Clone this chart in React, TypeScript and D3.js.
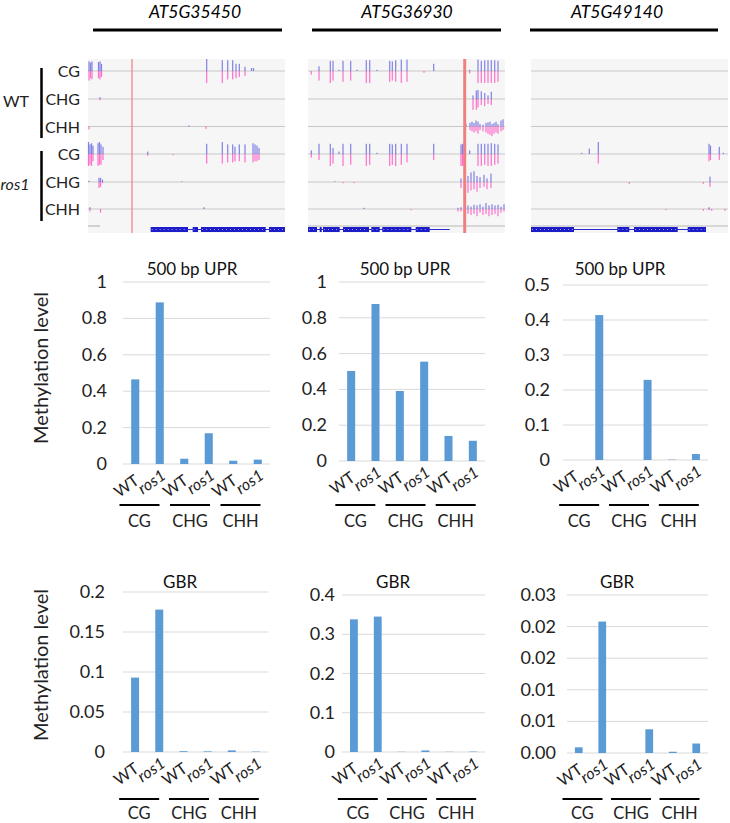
import React from "react";
import * as d3 from "d3";

const genes = ["AT5G35450", "AT5G36930", "AT5G49140"];
const contexts = ["CG", "CHG", "CHH"];
const genotypes = ["WT", "ros1"];
const trackLabels = ["CG", "CHG", "CHH", "CG", "CHG", "CHH"];

// bar chart values (order: CG WT, CG ros1, CHG WT, CHG ros1, CHH WT, CHH ros1)
const upr1 = [0.465, 0.888, 0.029, 0.169, 0.018, 0.024];
const upr2 = [0.503, 0.877, 0.391, 0.555, 0.14, 0.113];
const upr3 = [0, 0.414, 0, 0.229, 0.001, 0.017];
const gbr1 = [0.093, 0.178, 0.001, 0.0008, 0.002, 0.0005];
const gbr2 = [0.338, 0.345, 0.0005, 0.004, 0.0005, 0.001];
const gbr3 = [0.0009, 0.0208, 0, 0.00375, 0.0002, 0.0015];

const uprTicks12 = [0, 0.2, 0.4, 0.6, 0.8, 1];
const uprTickLabels12 = ["0", "0.2", "0.4", "0.6", "0.8", "1"];
const uprTicks3 = [0, 0.1, 0.2, 0.3, 0.4, 0.5];
const uprTickLabels3 = ["0", "0.1", "0.2", "0.3", "0.4", "0.5"];
const gbrTicks1 = [0, 0.05, 0.1, 0.15, 0.2];
const gbrTickLabels1 = ["0", "0.05", "0.1", "0.15", "0.2"];
const gbrTicks2 = [0, 0.1, 0.2, 0.3, 0.4];
const gbrTickLabels2 = ["0", "0.1", "0.2", "0.3", "0.4"];
const gbrTicks3 = [0, 0.005, 0.01, 0.015, 0.02, 0.025];
const gbrTickLabels3 = ["0.00", "0.01", "0.01", "0.02", "0.02", "0.03"];

// genome browser peaks: [position, up (blue), down (pink)]
const p1Tracks = [
  [[1,0.8,0.8],[2.5,0.7,0.6],[4,0.8,0.7],[10.5,0.75,0.6],[12,0.8,0.7],[13.5,0.6,0.5],[118.7,1,1],[134.3,0.9,1],[139.7,0.9,0.7],[144.7,0.9,0.7],[148,0.6,0.6],[151.3,0.6,0.5],[157,0.35,0.4],[163.5,0.25,0],[165.5,0.25,0]],
  [[12,0.15,0.1]],
  [[1,0,0.25],[101,0.1,0],[118,0,0.2]],
  [[0.5,1,1],[2,0.8,0.9],[3.5,0.9,1],[5,0.7,0.6],[10,0.9,1],[11.5,1,0.9],[13,0.8,0.9],[15,0.6,0.5],[59.7,0.2,0.15],[85,0,0.1],[118.7,0.85,0.8],[134.3,1,0.8],[139.7,0.8,0.7],[144.7,0.8,0.7],[147,0.6,0.6],[151.3,0.8,0.6],[157,0.8,0.7],[165,0.9,0.7],[167,0.8,0.6],[169,0.7,0.6],[171,0.5,0.5]],
  [[1,0.1,0],[11,0.35,0.5],[12.5,0.35,0.4],[14.5,0.2,0.1],[94,0.05,0]],
  [[2,0.15,0.2],[12.5,0,0.3],[116,0.15,0]],
];
const p2Tracks = [
  [[3.3,0,0.3],[11,0.4,0.8],[22.3,0.85,1],[25,0.85,0.8],[31,0.1,0],[35,0.85,0.9],[42.7,0.85,0.8],[49,0.1,0],[58.3,0.9,1],[61.7,0.9,1],[69,0.1,0],[81.7,0.85,0.9],[84.3,0.8,0.8],[87.7,0.9,0.9],[93.3,0.95,1],[99,0.95,0.9],[116,0,0.15],[125.7,0.6,0],[157.3,0.3,0.3],[161.7,0.1,0.2],[170,0.95,1],[173.3,0.85,1],[176.7,0.9,1],[180,0.9,1],[183.3,0.9,1],[186.7,0.9,1],[190,0.85,0.9]],
  [[165,0.3,0.9],[168.3,0.7,0.9],[170,0.75,0.7],[173.3,0.65,0.5],[176.7,0.5,0.6],[180,0.3,0.4],[183.3,0.6,0.5]],
  [[158,0.2,0],[162,0.3,0.3],[164,0.4,0.4],[166,0.3,0.5],[168,0.5,0.4],[170,0.4,0.6],[172,0.2,0.3],[175,0.15,0.4],[178,0.3,0.5],[180,0.35,0.6],[182,0.4,0.7],[184,0.2,0.8],[186,0.3,0.6],[188,0.4,0.5],[190,0.2,0.6],[193,0.5,0.4],[195,0.6,0.3]],
  [[3.3,0.3,0.3],[11,0.85,0.5],[22.3,0.85,1],[25,0.5,0.8],[31,0.2,0],[35,0.85,1],[42.7,0.85,0.9],[58.3,0.85,1],[61.7,0.85,0.9],[69,0.1,0],[81.7,0.85,1],[84.3,0.8,0.9],[87.7,0.85,1],[93.3,0.85,0.9],[99,0.85,0.7],[125.7,0.85,0.5],[153,0.8,1],[154.5,0.85,1],[156,0.8,0.9],[161.7,0.3,0],[170,0.85,1],[173.3,0.85,1],[176.7,0.85,0.9],[180,0.85,1],[183.3,0.9,1],[186.7,0.85,0.9],[190,0.8,0.8]],
  [[27,0.05,0],[35,0,0.1],[46,0,0.1],[153,0.3,0.5],[157,0.4,0.3],[160,0.5,0.9],[163,0.8,0.7],[166,0.9,0.6],[169,0.5,0.8],[172,0.4,0.5],[176,0.6,0.4],[179,0.3,0.6],[183,0.7,0.5]],
  [[56,0.1,0],[103,0,0.1],[150,0.1,0.2],[153,0.15,0.2],[157,0.2,0.3],[160,0.3,0.4],[163,0.2,0.5],[166,0.35,0.4],[169,0.3,0.6],[172,0.4,0.3],[175,0.2,0.5],[178,0.5,0.4],[181,0.3,0.6],[184,0.4,0.5],[187,0.3,0.4],[190,0.35,0.6],[193,0.2,0.3],[196,0.4,0.2]],
];
const p3Tracks = [
  [],
  [],
  [],
  [[50.7,0.1,0],[58.3,0.45,0],[67.3,1,0.8],[178,0.85,0.6],[179.5,0.7,0.5],[188.3,0.6,0.5],[192.3,0.1,0]],
  [[98.3,0,0.15],[172.3,0,0.15],[179,0.45,0.4]],
  [[135,0,0.1],[172.3,0,0.15],[178,0.15,0.1],[180.7,0,0.15],[194,0,0.15]],
];
const p1Exons = [[62.7,100],[104.7,110],[113,177.7],[181,197]];
const p2Exons = [[0,9],[11.7,13.7],[15,31.7],[35,61],[63.3,71.7],[74.3,103.3],[107.7,121.7]];
const p3Exons = [[0,43],[86.3,98.3],[103,146.7],[156.7,175]];
const p1Intron = [62.7, 197];
const p2Intron = [0, 141.7];
const p3Intron = [0, 175];
const redMarks = [44, 156.7, null];

const FONT = "Lato, 'Open Sans', sans-serif";
const BAR = "#5b9bd5";

const browserPanels = [
  { x: 88, titleX: 195, lineX: [93, 282], tracks: p1Tracks, exons: p1Exons, intron: p1Intron, red: redMarks[0], redW: 1.2, bottomLine: [0, 12] },
  { x: 308, titleX: 407, lineX: [312, 501], tracks: p2Tracks, exons: p2Exons, intron: p2Intron, red: redMarks[1], redW: 3, bottomLine: [0, 197] },
  { x: 531, titleX: 617, lineX: [530, 718], tracks: p3Tracks, exons: p3Exons, intron: p3Intron, red: redMarks[2], redW: 0, bottomLine: [0, 197] },
];
const baselines = [71, 99, 126.5, 154, 182, 209];

const charts = [
  { v: upr1, ticks: uprTicks12, labels: uprTickLabels12, max: 1, x0: 123, x1: 270, y0: 282, y1: 464, tickX: 107, title: "500 bp UPR", titleX: 192, titleY: 275, ulY: 505, glY: 527 },
  { v: upr2, ticks: uprTicks12, labels: uprTickLabels12, max: 1, x0: 339, x1: 485, y0: 282, y1: 461, tickX: 327, title: "500 bp UPR", titleX: 405, titleY: 275, ulY: 505, glY: 527 },
  { v: upr3, ticks: uprTicks3, labels: uprTickLabels3, max: 0.5, x0: 563, x1: 708, y0: 285, y1: 460, tickX: 550, title: "500 bp UPR", titleX: 620, titleY: 275, ulY: 505, glY: 527 },
  { v: gbr1, ticks: gbrTicks1, labels: gbrTickLabels1, max: 0.2, x0: 123, x1: 268, y0: 592, y1: 752, tickX: 105, title: "GBR", titleX: 180, titleY: 588, ulY: 799, glY: 819 },
  { v: gbr2, ticks: gbrTicks2, labels: gbrTickLabels2, max: 0.4, x0: 342, x1: 485, y0: 595, y1: 752, tickX: 335, title: "GBR", titleX: 393, titleY: 588, ulY: 799, glY: 819 },
  { v: gbr3, ticks: gbrTicks3, labels: gbrTickLabels3, max: 0.025, x0: 567, x1: 708, y0: 595, y1: 753, tickX: 556, title: "GBR", titleX: 617, titleY: 588, ulY: 799, glY: 819 },
];

function Browser({ p, gi }: any) {
  const xs = d3.scaleLinear().domain([0, 197]).range([p.x, p.x + 197]);
  const hs = d3.scaleLinear().domain([0, 1]).range([0, 12]);
  return (
    <g>
      <text x={p.titleX} y={18} fontSize={17.5} fontStyle="italic" textAnchor="middle" fontFamily={FONT}>{genes[gi]}</text>
      <line x1={p.lineX[0]} x2={p.lineX[1]} y1={30} y2={30} stroke="#000" strokeWidth={3} />
      <rect x={xs(0)} y={59} width={197} height={174} fill="#f6f6f6" />
      {baselines.map((b, i) => (
        <line key={i} x1={xs(0)} x2={xs(197)} y1={b} y2={b} stroke="#c8c8c8" strokeWidth={1} />
      ))}
      <line x1={xs(p.bottomLine[0])} x2={xs(p.bottomLine[1])} y1={226} y2={226} stroke="#b8b8b8" strokeWidth={1.2} />
      {p.tracks.map((tr: number[][], ti: number) => (
        <g key={ti}>
          {tr.map((pk, k) => (
            <g key={k}>
              {pk[1] > 0 && <rect x={xs(pk[0]) - 0.6} y={baselines[ti] - hs(pk[1])} width={1.2} height={hs(pk[1])} fill="#5a5ae0" opacity={0.75} />}
              {pk[2] > 0 && <rect x={xs(pk[0]) - 0.6} y={baselines[ti]} width={1.2} height={hs(pk[2])} fill="#ff4fc0" opacity={0.8} />}
            </g>
          ))}
        </g>
      ))}
      <line x1={xs(p.intron[0])} x2={xs(p.intron[1])} y1={229.5} y2={229.5} stroke="#2a2ad0" strokeWidth={1} />
      {p.exons.map((e: number[], k: number) => (
        <g key={k}>
          <rect x={xs(e[0])} y={227} width={xs(e[1]) - xs(e[0])} height={5} fill="#1c1cc8" />
          <line x1={xs(e[0]) + 1} x2={xs(e[1]) - 1} y1={229.5} y2={229.5} stroke="#9a9aff" strokeWidth={1} strokeDasharray="1,3" />
        </g>
      ))}
      {p.red != null && (
        <line x1={xs(p.red)} x2={xs(p.red)} y1={59} y2={233} stroke="#f08080" strokeWidth={p.redW} />
      )}
    </g>
  );
}

function Chart({ c }: any) {
  const cats = d3.range(6);
  const x = d3.scaleBand<number>().domain(cats).range([c.x0, c.x1]).paddingInner(0.67).paddingOuter(0.335);
  const y = d3.scaleLinear().domain([0, c.max]).range([c.y1, c.y0]);
  const step = x.step();
  return (
    <g fontFamily={FONT}>
      <text x={c.titleX} y={c.titleY} fontSize={17} textAnchor="middle" fill="#111">{c.title}</text>
      {c.ticks.map((t: number, i: number) => (
        <g key={i}>
          <line x1={c.x0} x2={c.x1} y1={y(t)} y2={y(t)} stroke="#d9d9d9" strokeWidth={1} />
          <text x={c.tickX} y={y(t) + 6} fontSize={18} textAnchor="end" fill="#222">{c.labels[i]}</text>
        </g>
      ))}
      {c.v.map((v: number, i: number) => (
        <rect key={i} x={x(i)} y={y(v)} width={x.bandwidth()} height={c.y1 - y(v)} fill={BAR} />
      ))}
      {cats.map((i) => {
        const ros = i % 2 === 1;
        const cx = (x(i) as number) + x.bandwidth() / 2 + (ros ? 7 : 5);
        const cy = c.y1 + (ros ? 14 : 19);
        return (
          <text key={i} transform={`translate(${cx},${cy}) rotate(-35)`} fontSize={16} textAnchor="end" fontStyle={ros ? "italic" : "normal"} fill="#222">
            {genotypes[i % 2]}
          </text>
        );
      })}
      {contexts.map((g, gi) => {
        const gc = c.x0 + step * (gi * 2 + 1) - 8 + gi * 1.5;
        return (
          <g key={g}>
            <line x1={gc - 20} x2={gc + 20} y1={c.ulY} y2={c.ulY} stroke="#000" strokeWidth={2} />
            <text x={gc} y={c.glY} fontSize={16.5} textAnchor="middle" fill="#222">{g}</text>
          </g>
        );
      })}
    </g>
  );
}

export default function App() {
  return (
    <svg width={730} height={823} style={{ position: "absolute", left: 0, top: 0, background: "#fff" }} fontFamily={FONT}>
      <rect width={730} height={823} fill="#fff" />
      {browserPanels.map((p, i) => <Browser key={i} p={p} gi={i} />)}
      {trackLabels.map((t, i) => (
        <text key={i} x={80} y={baselines[i] + 6} fontSize={16} textAnchor="end" fill="#222">{t}</text>
      ))}
      <text x={16} y={107} fontSize={16} textAnchor="middle" fill="#222">WT</text>
      <text x={15} y={190} fontSize={16} textAnchor="middle" fontStyle="italic" fill="#222">ros1</text>
      <line x1={41.5} x2={41.5} y1={68} y2={138} stroke="#000" strokeWidth={2.5} />
      <line x1={41.5} x2={41.5} y1={151} y2={221} stroke="#000" strokeWidth={2.5} />
      {charts.map((c, i) => <Chart key={i} c={c} />)}
      <text transform="translate(48,368) rotate(-90)" fontSize={20} textAnchor="middle" fill="#222">Methylation level</text>
      <text transform="translate(48,665) rotate(-90)" fontSize={20} textAnchor="middle" fill="#222">Methylation level</text>
    </svg>
  );
}
